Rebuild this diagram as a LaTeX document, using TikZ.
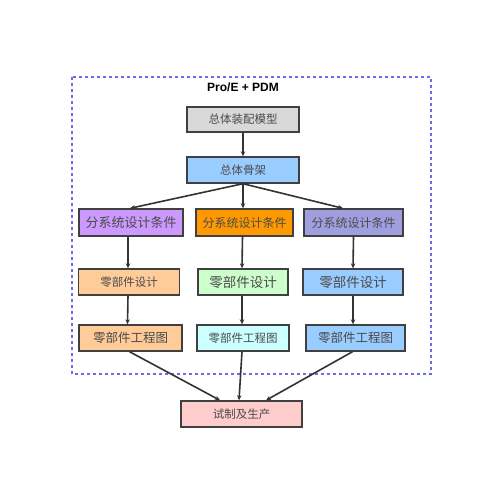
\documentclass[tikz,border=0pt]{standalone}
\usepackage{fontspec}
\setmainfont{Liberation Sans}
\newfontfamily\cjk{Noto Sans CJK SC}
\usetikzlibrary{arrows.meta}
\definecolor{cgray}{HTML}{D9D9D9}
\definecolor{cblue}{HTML}{99CCFF}
\definecolor{cpurple}{HTML}{CC99FF}
\definecolor{corange}{HTML}{FF9900}
\definecolor{clav}{HTML}{9F9FE0}
\definecolor{cpeach}{HTML}{FFCC99}
\definecolor{cgreen}{HTML}{CCFFCC}
\definecolor{ccyan}{HTML}{CCFFFF}
\definecolor{cpink}{HTML}{FFCCCC}
\definecolor{cframe}{HTML}{6B6BF0}
\definecolor{ctext}{HTML}{4A4A4A}
\begin{document}
\begin{tikzpicture}[x=1pt,y=-1pt,
  box/.style={draw=black!75,line width=1.4pt,inner sep=0pt,minimum height=26pt,text=ctext,font=\cjk\fontsize{11.5}{12}\selectfont},
  conn/.style={line width=1.6pt,draw=black!80,-{Stealth[length=5pt,width=4.5pt]}}]
\useasboundingbox (0,0) rectangle (500,500);
\fill[white] (0,0) rectangle (500,500);
\draw[cframe,line width=1.7pt,dash pattern=on 3pt off 3pt] (72,77) rectangle (431,374);
\node[font=\bfseries\fontsize{12}{13}\selectfont] (title) at (243,87) {Pro/E + PDM};
\node[box,fill=cgray,minimum width=112pt,minimum height=25pt] (b1) at (243,119.5) {总体装配模型};
\node[box,fill=cblue,minimum width=112pt] (b2) at (243,170) {总体骨架};
\node[box,fill=cpurple,minimum width=104pt,minimum height=27pt,font=\cjk\fontsize{13}{14}\selectfont] (r3L) at (131,222.5) {分系统设计条件};
\node[box,fill=corange,minimum width=97pt,minimum height=27pt,font=\cjk\fontsize{12}{13}\selectfont] (r3M) at (244.5,222.5) {分系统设计条件};
\node[box,fill=clav,minimum width=99pt,minimum height=27pt,font=\cjk\fontsize{12}{13}\selectfont] (r3R) at (353.5,222.5) {分系统设计条件};
\node[box,fill=cpeach,minimum width=101pt] (r4L) at (129,282) {零部件设计};
\node[box,fill=cgreen,minimum width=90pt,font=\cjk\fontsize{13.5}{14}\selectfont] (r4M) at (243,282) {零部件设计};
\node[box,fill=cblue,minimum width=100pt,font=\cjk\fontsize{13.5}{14}\selectfont] (r4R) at (353,282) {零部件设计};
\node[box,fill=cpeach,minimum width=103pt,font=\cjk\fontsize{12.5}{13}\selectfont] (r5L) at (130.5,338) {零部件工程图};
\node[box,fill=ccyan,minimum width=92pt] (r5M) at (243,338) {零部件工程图};
\node[box,fill=cblue,minimum width=99pt,font=\cjk\fontsize{12.5}{13}\selectfont] (r5R) at (355.5,338) {零部件工程图};
\node[box,fill=cpink,minimum width=121pt] (bot) at (241.5,414) {试制及生产};
\draw[conn] (b1) -- (b2);
\draw[conn] (b2.south) -- ([xshift=-1pt]r3L.north);
\draw[conn] (b2.south) -- (b2.south |- r3M.north);
\draw[conn] (b2.south) -- ([xshift=-10.5pt]r3R.north);
\draw[conn] ([xshift=-3pt]r3L.south) -- ([xshift=-1pt]r4L.north);
\draw[conn] ([xshift=-2pt]r3M.south) -- ([xshift=-1pt]r4M.north);
\draw[conn] (r3R.south) -- (r4R.north);
\draw[conn] ([xshift=-1pt]r4L.south) -- ([xshift=-3pt]r5L.north);
\draw[conn] ([xshift=-1pt]r4M.south) -- ([xshift=-1pt]r5M.north);
\draw[conn] (r4R.south) -- ([xshift=-2.5pt]r5R.north);
\draw[conn] ([xshift=-1pt]r5L.south) -- ([xshift=-21.5pt]bot.north);
\draw[conn] ([xshift=-1pt]r5M.south) -- ([xshift=-2.5pt]bot.north);
\draw[conn] ([xshift=-3pt]r5R.south) -- ([xshift=24.5pt]bot.north);
\end{tikzpicture}
\end{document}
